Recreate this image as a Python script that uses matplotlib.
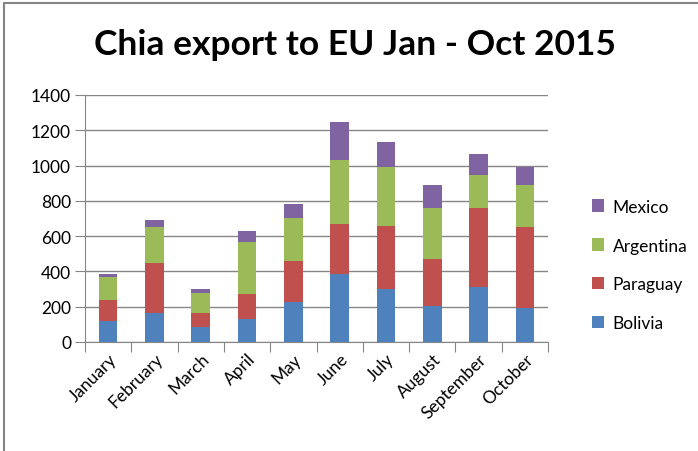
import numpy as np
import matplotlib.pyplot as plt
from matplotlib.patches import Rectangle

months = ['January', 'February', 'March', 'April', 'May',
          'June', 'July', 'August', 'September', 'October']
bolivia = [120, 165, 83, 132, 224, 383, 300, 205, 311, 194]
paraguay = [120, 282, 83, 140, 234, 287, 358, 265, 447, 457]
argentina = [130, 204, 109, 297, 245, 362, 332, 292, 191, 239]
mexico = [15, 41, 25, 59, 81, 217, 142, 128, 119, 100]

series = [('Bolivia', bolivia, '#4F81BD'),
          ('Paraguay', paraguay, '#C0504D'),
          ('Argentina', argentina, '#9BBB59'),
          ('Mexico', mexico, '#8064A2')]

plt.rcParams['font.family'] = ['Lato', 'DejaVu Sans']

fig = plt.figure(figsize=(6.98, 4.52), dpi=100)
ax = fig.add_axes([85 / 698, 1 - 343 / 452, 463 / 698, 247 / 452])

x = np.arange(len(months))
bottom = np.zeros(len(months))
handles = []
for name, vals, color in series:
    b = ax.bar(x, vals, width=0.4, bottom=bottom, color=color, label=name,
               zorder=3)
    bottom += np.array(vals)
    handles.append(b)

ax.set_xlim(-0.5, len(months) - 0.5)
ax.set_ylim(0, 1400)
ax.set_yticks(range(0, 1401, 200))
ax.yaxis.grid(True, color='#868686', linewidth=1, zorder=0)

# category ticks sit between the bars
ax.set_xticks(np.arange(-0.5, len(months)), minor=False)
ax.set_xticklabels([])
ax.set_xticks(x, minor=True)
ax.set_xticklabels(months, minor=True, rotation=45, ha='right',
                   rotation_mode='anchor', fontsize=12.5)
ax.tick_params(axis='x', which='minor', length=0, pad=6)
ax.tick_params(axis='x', which='major', length=7, color='#868686')
ax.tick_params(axis='y', length=7, color='#868686', labelsize=12.5, pad=3)

for side in ['top', 'right']:
    ax.spines[side].set_visible(False)
for side in ['left', 'bottom']:
    ax.spines[side].set_color('#868686')

fig.text(355 / 698, 1 - 45 / 452, 'Chia export to EU Jan - Oct 2015',
         ha='center', va='center', fontsize=25.5, fontweight='bold')

leg = fig.legend(handles[::-1], [s[0] for s in series][::-1],
                 loc='center left', bbox_to_anchor=(576 / 698, 1 - 266 / 452),
                 frameon=False, fontsize=12.5, handlelength=0.7,
                 handleheight=0.7, labelspacing=1.32, handletextpad=0.5)

# outer chart frame
fig.patches.append(Rectangle((4 / 698, -0.1), 1.2, 1 - 4 / 452 + 0.1,
                             transform=fig.transFigure, fill=False,
                             edgecolor='#868686', linewidth=1.5))

fig.savefig('out.png', dpi=100)
